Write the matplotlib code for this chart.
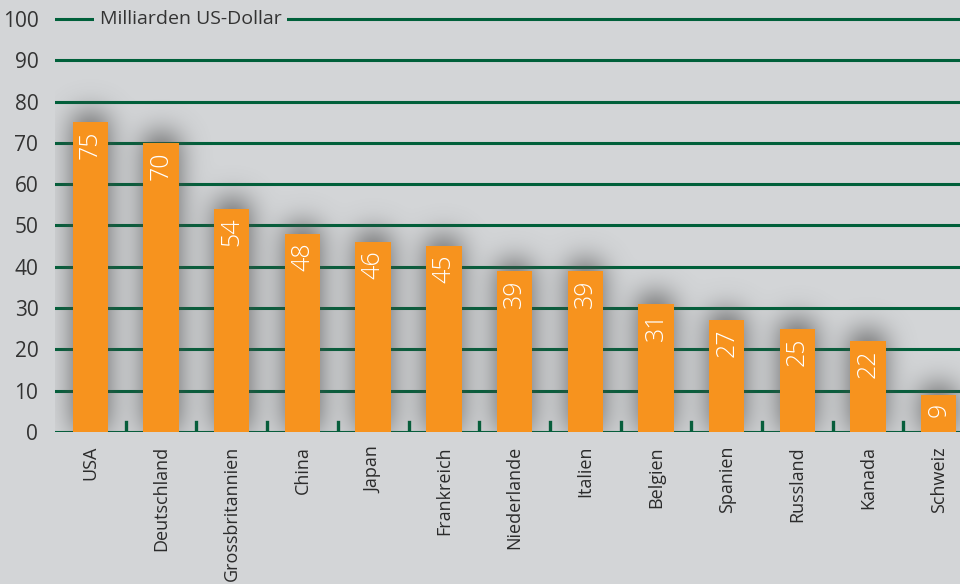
import numpy as np
import matplotlib.pyplot as plt

countries = ["USA", "Deutschland", "Grossbritannien", "China", "Japan", "Frankreich",
             "Niederlande", "Italien", "Belgien", "Spanien", "Russland", "Kanada", "Schweiz"]
values = [75, 70, 54, 48, 46, 45, 39, 39, 31, 27, 25, 22, 9]
y_ticks = [0, 10, 20, 30, 40, 50, 60, 70, 80, 90, 100]

bg = "#d3d5d7"
green = "#00603a"
orange = "#f7931e"
plt.rcParams["font.family"] = ["Open Sans", "DejaVu Sans"]

fig = plt.figure(figsize=(9.6, 5.84), dpi=100, facecolor=bg)
ax = fig.add_axes([55 / 960, 1 - 432 / 584, 1 - 55 / 960, (432 - 6.6) / 584])
ax.set_facecolor(bg)
xmin, xmax, ymin, ymax = -0.5, 12.3, 0, 103
ax.set_xlim(xmin, xmax)
ax.set_ylim(ymin, ymax)

# gridlines
for t in y_ticks:
    ax.axhline(t, color=green, lw=2.2, zorder=1)

# soft blurred shadow behind the bars
nx, ny = 905, 426
xs = np.linspace(xmin, xmax, nx)
ys = np.linspace(ymin, ymax, ny)
mask = np.zeros((ny, nx))
for i, v in enumerate(values):
    cols = np.abs(xs - i) <= 0.22
    rows = ys <= v + 2
    mask[np.ix_(rows, cols)] = 1.0
kern = np.exp(-0.5 * (np.arange(-45, 46) / 14.0) ** 2)
kern /= kern.sum()
blur = np.apply_along_axis(lambda r: np.convolve(r, kern, mode="same"), 1, mask)
blur = np.apply_along_axis(lambda c: np.convolve(c, kern, mode="same"), 0, blur)
shadow = np.zeros((ny, nx, 4))
shadow[..., :3] = 0.3
shadow[..., 3] = np.clip(blur * 0.95, 0, 0.6)
ax.imshow(shadow, extent=(xmin, xmax, ymin, ymax), origin="lower",
          aspect="auto", zorder=2, interpolation="bilinear")

x = range(len(values))
ax.bar(x, values, width=0.5, color=orange, zorder=3)

for i, v in zip(x, values):
    ax.annotate(str(v), (i, v), xytext=(0, -6), textcoords="offset points",
                rotation=90, ha="center", va="top", color="white", fontsize=18,
                fontweight="light", zorder=4)

# small ticks between bars
for i in range(len(values) - 1):
    ax.plot([i + 0.5, i + 0.5], [0, 2.4], color=green, lw=2.4, zorder=1)

ax.set_xticks(list(x))
ax.set_xticklabels(countries, rotation=90, fontsize=13, color="#2b2b2b")
ax.set_yticks(y_ticks)
ax.set_yticklabels([str(t) for t in y_ticks], fontsize=15, color="#333333")
ax.tick_params(length=0, pad=12)
ax.tick_params(axis="x", pad=10)
for s in ax.spines.values():
    s.set_visible(False)

ax.text(0.13, 100, "Milliarden US-Dollar", ha="left", va="center", fontsize=14,
        color="#333333", zorder=5,
        bbox=dict(facecolor=bg, edgecolor="none", pad=4))

fig.savefig("out.png", dpi=100, facecolor=bg)
